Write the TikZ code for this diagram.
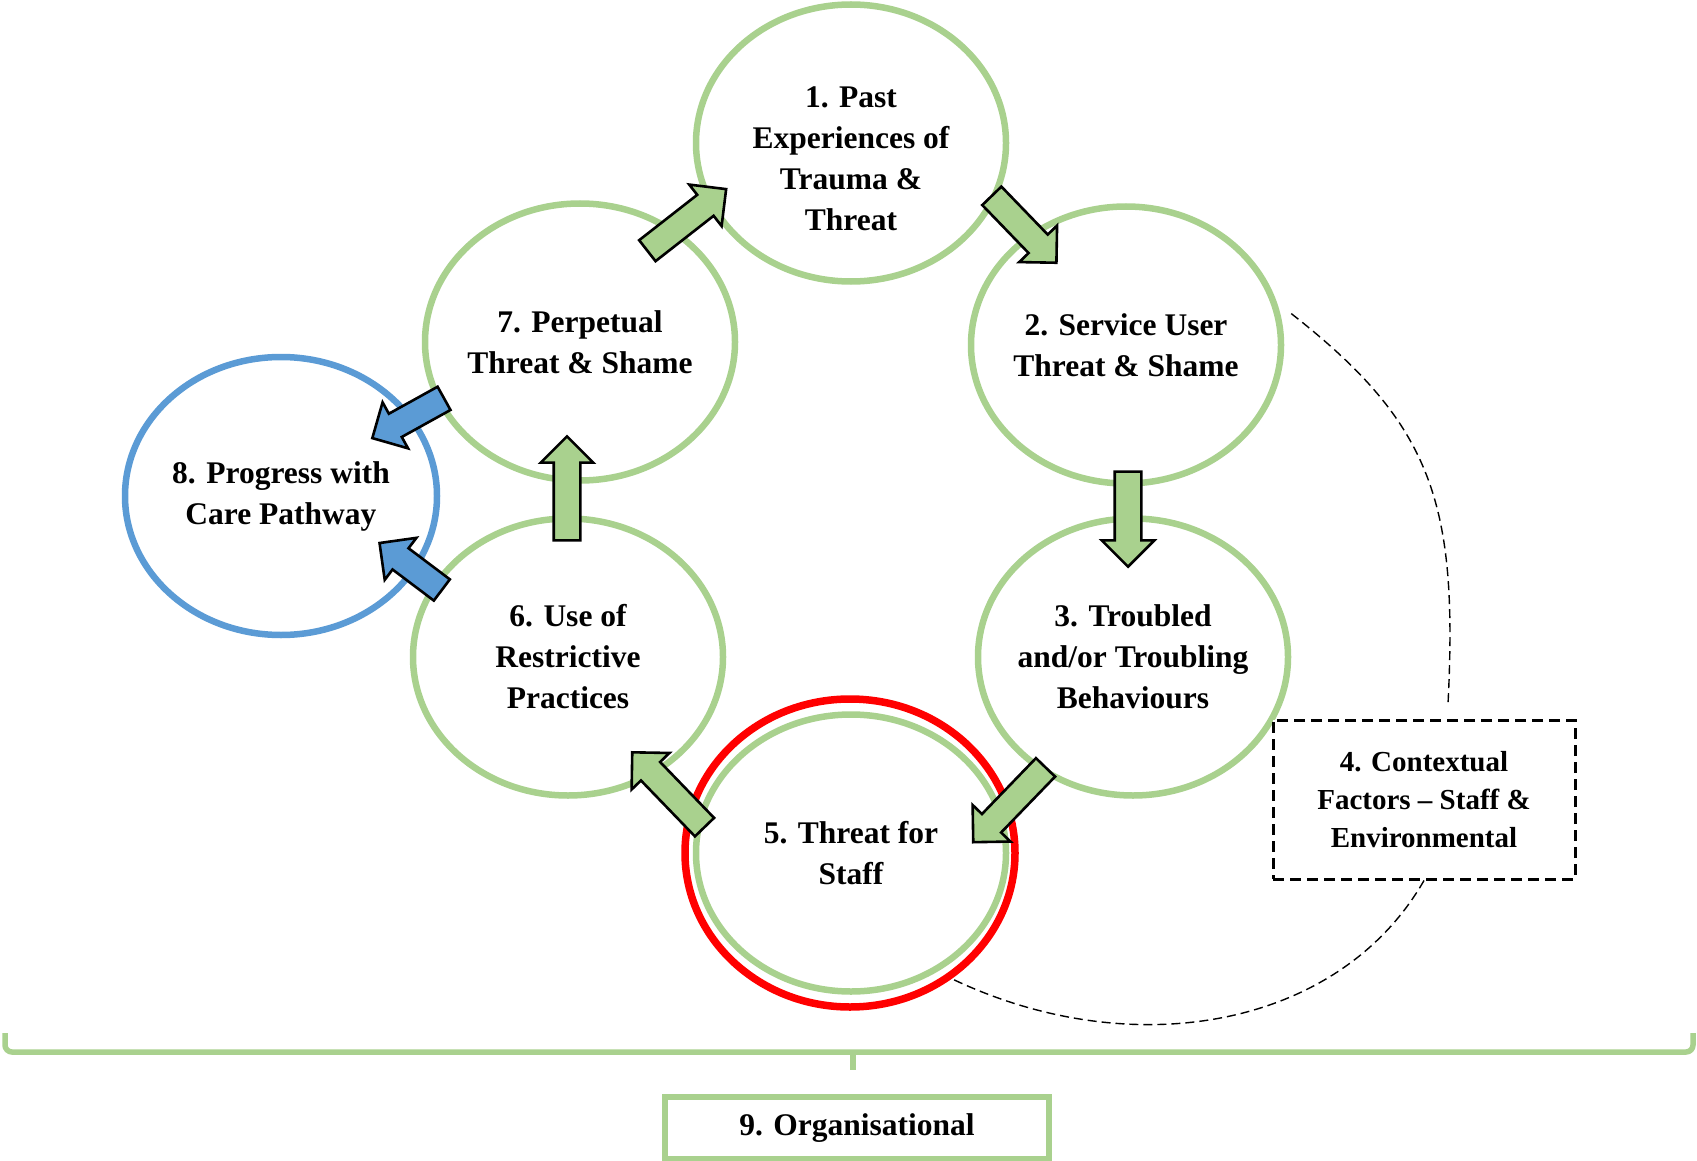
\documentclass[tikz,border=0pt]{standalone}
\usepackage{fontspec}
\setmainfont{Liberation Serif}
\usepackage{xcolor}
\usepackage{tikz}
\usetikzlibrary{shapes.geometric,shapes.arrows,calc}
\definecolor{stagegreen}{HTML}{A9D18E}
\definecolor{pathblue}{HTML}{5B9BD5}
\definecolor{alarmred}{HTML}{FF0000}

\begin{document}
\begin{tikzpicture}[x=1pt, y=-1pt,
    stagetext/.style={font=\fontsize{31.5}{41}\selectfont\bfseries, align=center},
    stage/.style={stagetext, ellipse, draw=stagegreen, line width=6.5pt, minimum width=310pt, minimum height=277pt, inner sep=-30pt},
    flow/.style={single arrow, draw=black, line width=2.6pt, fill=stagegreen, inner sep=0pt, inner ysep=12pt, single arrow head extend=13pt, single arrow head indent=0pt, minimum height=#1},
    backflow/.style={flow=#1, fill=pathblue},
    context/.style={draw=black, dash pattern=on 9pt off 5pt, line width=1.4pt}]
  \useasboundingbox (0,0) rectangle (1697,1161);

  \node[stage] (c1) at (851,143) {\rule{0pt}{52pt}1. Past\\Experiences of\\Trauma \&\\Threat};
  \node[stage] (c2) at (1126,345) {2. Service User\\Threat \& Shame};
  \node[stage] (c3) at (1133,657) {3. Troubled\\and/or Troubling\\Behaviours};
  \node[ellipse, draw=alarmred, line width=7.5pt, minimum width=330pt, minimum height=308pt] (c5r) at (850,853) {};
  \node[stage] (c5) at (851,853) {5. Threat for\\Staff};
  \node[stage] (c6) at (568,657) {6. Use of\\Restrictive\\Practices};
  \node[stage] (c7) at (580,342) {7. Perpetual\\Threat \& Shame};
  \node[stage, draw=pathblue, minimum width=312pt, minimum height=278pt] (c8) at (281,496) {8. Progress with\\Care Pathway};

  \draw[context] ([shift={(10,-4)}]c2.10) .. controls +(142,111) and +(10,-200) .. (1448,704) coordinate (ctxtop);
  \node[stagetext, font=\fontsize{29}{38}\selectfont\bfseries, draw=black, dash pattern=on 11pt off 6pt, line width=3pt, fill=white, minimum width=302pt, minimum height=159pt, inner sep=0pt] (ctx) at (1424,799.5) {4. Contextual\\Factors -- Staff \&\\Environmental};
  \draw[context] (ctx.south) .. controls +(-85,148) and +(180,86) .. (c5r.-51);

  \draw[stagegreen, line width=5.5pt, rounded corners=7pt] (5,1033) |- (853,1052) -| (1693,1033);
  \draw[stagegreen, line width=5.5pt] (853,1052) -- (853,1070);
  \node[stagetext, draw=stagegreen, line width=6pt, minimum width=384pt, minimum height=62pt] (org) at (857,1128) {9. Organisational};

  \node[flow=100pt, rotate=38] (a71) at (681.5,224) {};
  \node[flow=93pt, rotate=-46] (a12) at (1019.5,224.5) {};
  \node[flow=95pt, rotate=-90] (a23) at (1128,512.5) {};
  \node[flow=104pt, rotate=-134] (a35) at (1014,800) {};
  \node[flow=104pt, rotate=134] (a56) at (673,794.5) {};
  \node[flow=104pt, rotate=90] (a67) at (567,495) {};
  \node[backflow=82pt, rotate=-151] (a78) at (414,415) {};
  \node[backflow=78pt, rotate=143] (a68) at (416,570.5) {};
\end{tikzpicture}
\end{document}
